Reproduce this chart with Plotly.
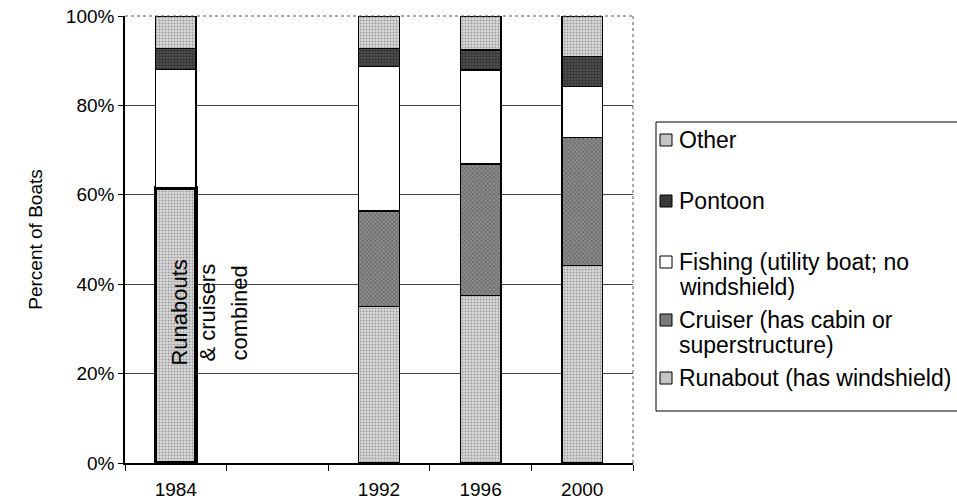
import plotly.graph_objects as go

# ---------------- data ----------------
years = ["1984", "1988", "1992", "1996", "2000"]
year_labels = ["1984", "", "1992", "1996", "2000"]

combined_years = ["1984"]
combined_1984 = [61.5]          # runabouts & cruisers combined
runabout = [None, None, 35.0, 37.4, 44.2]
cruiser = [None, None, 21.4, 29.5, 28.6]
fishing = [26.6, None, 32.3, 21.0, 11.4]
pontoon = [4.7, None, 4.1, 4.5, 6.7]
other = [7.2, None, 7.2, 7.6, 9.1]

y_ticks = [0, 20, 40, 60, 80, 100]
y_tick_labels = ["0%", "20%", "40%", "60%", "80%", "100%"]

series_names = [
    "Runabout (has windshield)",
    "Cruiser (has cabin or superstructure)",
    "Fishing (utility boat; no windshield)",
    "Pontoon",
    "Other",
]
# legend text lines (top to bottom)
legend_lines = [
    ["Other"],
    ["Pontoon"],
    ["Fishing (utility boat; no", "windshield)"],
    ["Cruiser (has cabin or", "superstructure)"],
    ["Runabout (has windshield)"],
]
combined_text = ["Runabouts", "& cruisers", "combined"]

# ---------------- styles ----------------
FONT = "Liberation Sans, Arial, sans-serif"
W, H = 957, 503
PL, PR, PT, PB = 125, 633, 16, 463  # plot area in px

styles = {
    "runabout": dict(bg="#dadada", fg="#555555", shape=".", size=3, sol=0.35, solid="#c4c4c4"),
    "cruiser": dict(bg="#8c8c8c", fg="#222222", shape="x", size=3, sol=0.35, solid="#7a7a7a"),
    "fishing": dict(bg="#ffffff", fg="#ffffff", shape="", size=3, sol=0.3, solid="#ffffff"),
    "pontoon": dict(bg="#555555", fg="#101010", shape=".", size=3, sol=0.5, solid="#3a3a3a"),
    "other": dict(bg="#dadada", fg="#555555", shape=".", size=3, sol=0.35, solid="#c4c4c4"),
}


def marker(key, lw=1.3):
    s = styles[key]
    m = dict(color=s["bg"], line=dict(color="black", width=lw))
    if s["shape"]:
        m["pattern"] = dict(shape=s["shape"], bgcolor=s["bg"], fgcolor=s["fg"],
                            size=s["size"], solidity=s["sol"], fillmode="overlay")
    return m


fig = go.Figure()
fig.add_trace(go.Bar(x=combined_years, y=combined_1984, name="Runabouts & cruisers combined",
                     marker=marker("runabout", lw=3.5), showlegend=False))
fig.add_trace(go.Bar(x=years, y=runabout, name=series_names[0], marker=marker("runabout"), showlegend=False))
fig.add_trace(go.Bar(x=years, y=cruiser, name=series_names[1], marker=marker("cruiser"), showlegend=False))
fig.add_trace(go.Bar(x=years, y=fishing, name=series_names[2], marker=marker("fishing"), showlegend=False))
fig.add_trace(go.Bar(x=years, y=pontoon, name=series_names[3], marker=marker("pontoon"), showlegend=False))
fig.add_trace(go.Bar(x=years, y=other, name=series_names[4], marker=marker("other"), showlegend=False))


def px_x(p):
    return (p - PL) / (PR - PL)


def px_y(p):
    return (PB - p) / (PB - PT)


# text on the 1984 bar (category index 0 = "1984")
for txt, shift in zip(combined_text, [4, 32, 64]):
    fig.add_annotation(x=years.index("1984"), y=33.6, text=txt, textangle=-90, showarrow=False,
                       xshift=shift, font=dict(family=FONT, size=22, color="black"))

# plot-area border (top and right, dotted)
fig.add_shape(type="line", xref="paper", yref="paper", x0=0, x1=1, y0=1, y1=1,
              line=dict(color="#555555", width=1, dash="dot"))
fig.add_shape(type="line", xref="paper", yref="paper", x0=1, x1=1, y0=0, y1=1,
              line=dict(color="#555555", width=1, dash="dot"))

# legend drawn as box + swatches + text (box runs past the right edge, as in the original)
fig.add_shape(type="path", xref="paper", yref="paper",
              path=(f"M {px_x(990)} {px_y(122)} L {px_x(656)} {px_y(122)} "
                    f"L {px_x(656)} {px_y(411)} L {px_x(990)} {px_y(411)}"),
              line=dict(color="black", width=1), layer="above")
legend_keys = ["other", "pontoon", "fishing", "cruiser", "runabout"]
legend_y = [140, 201, 262, 320, 378]
for key, lines, yc in zip(legend_keys, legend_lines, legend_y):
    fig.add_shape(type="rect", xref="paper", yref="paper",
                  x0=px_x(660), x1=px_x(672), y0=px_y(yc + 6), y1=px_y(yc - 6),
                  line=dict(color="black", width=1), fillcolor=styles[key]["solid"], layer="above")
    for i, ln in enumerate(lines):
        fig.add_annotation(xref="paper", yref="paper", x=px_x(677), y=px_y(yc + 25 * i),
                           xanchor="left", yanchor="middle", text=ln, showarrow=False,
                           font=dict(family=FONT, size=23, color="black"))

fig.update_layout(
    width=W, height=H,
    barmode="stack", bargap=0.6,
    plot_bgcolor="white", paper_bgcolor="white",
    margin=dict(l=PL, r=W - PR, t=PT, b=H - PB, autoexpand=False),
    font=dict(family=FONT, size=19, color="black"),
    showlegend=False,
    xaxis=dict(
        type="category", categoryorder="array", categoryarray=years,
        range=[-0.5, len(years) - 0.5],
        tickmode="array", tickvals=years, ticktext=year_labels,
        tickson="boundaries", ticks="outside", ticklen=6, tickcolor="black",
        showline=True, linecolor="black", linewidth=1.5, showgrid=False,
        tickfont=dict(family=FONT, size=19), ticklabelstandoff=8,
    ),
    yaxis=dict(
        range=[0, 100], tickmode="array", tickvals=y_ticks, ticktext=y_tick_labels,
        ticks="outside", ticklen=5, tickcolor="black", ticklabeloverflow="allow",
        showline=True, linecolor="black", linewidth=1.5,
        showgrid=True, gridcolor="#444444", gridwidth=1, zeroline=False,
        tickfont=dict(family=FONT, size=19),
        title=dict(text="Percent of Boats", standoff=18, font=dict(family=FONT, size=19)),
    ),
)

fig.write_html("out.html", config={"displayModeBar": False},
               post_script="document.body.style.margin='0';")
